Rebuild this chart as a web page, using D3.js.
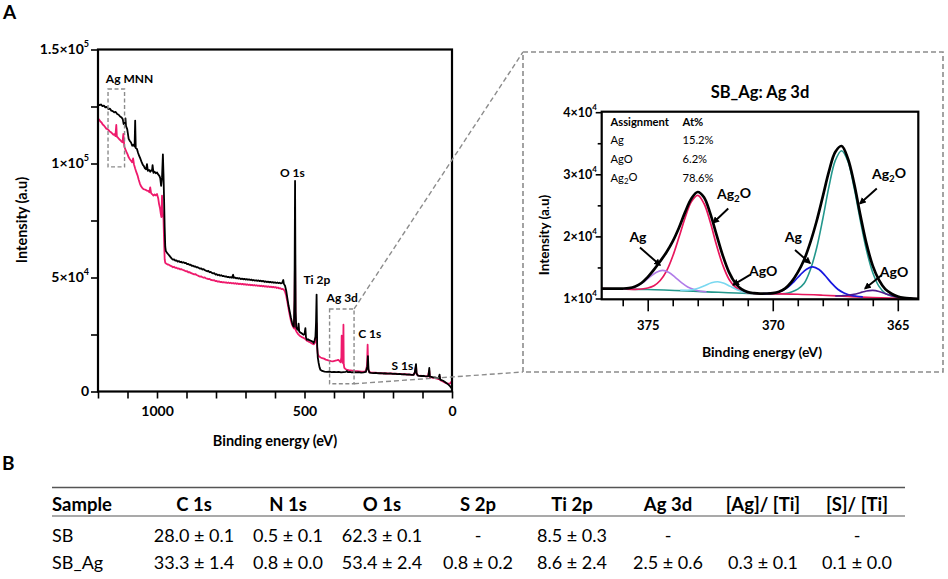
<!DOCTYPE html>
<html><head><meta charset="utf-8">
<script src="https://cdn.jsdelivr.net/npm/d3@7"></script>
<style>
body{margin:0;background:#fff}
svg{display:block}
text{font-family:Lato,"Open Sans",sans-serif;fill:#000}
</style>
</head><body>
<svg id="c" width="948" height="579"></svg>
<script>
// ---------------- DATA ----------------
// Survey spectra [binding energy (eV), intensity (counts)]
const surveySB = [[1200,126100],[1195,125600],[1190,125900],[1185,125200],[1180,125400],[1175,124600],[1170,124800],[1165,123900],[1160,124100],[1155,123200],[1150,123000],[1145,122400],[1140,122600],[1135,121700],[1130,121400],[1125,120600],[1120,120200],[1116,119400],[1113,117300],[1110,118200],[1107,119800],[1105,116400],[1101,115100],[1096,110800],[1092,109900],[1088,109200],[1084,107800],[1080,108200],[1076,107400],[1074,118800],[1072,106800],[1068,106400],[1064,104600],[1060,103200],[1056,102000],[1052,100600],[1048,99400],[1045,99000],[1041,97900],[1037,97500],[1034,99700],[1031,96800],[1027,97200],[1023,96400],[1020,97000],[1017,96800],[1015,99300],[1012,95900],[1008,96400],[1004,95700],[1000,96100],[996,95200],[992,94600],[989,93600],[986,90200],[983,93800],[980,104000],[978,95500],[976,84300],[974,72000],[972,63500],[970,61600],[966,60800],[962,60200],[958,59600],[954,58900],[950,58300],[946,57800],[942,57900],[938,57400],[934,57500],[930,57000],[926,57200],[922,56800],[918,56900],[914,56500],[910,56700],[906,56300],[902,56400],[898,55900],[894,56000],[890,55500],[886,55600],[882,55100],[878,55200],[874,54800],[870,54900],[866,54400],[862,54500],[858,54200],[854,53900],[850,54000],[846,53500],[842,53700],[838,53200],[834,53000],[830,52700],[826,52900],[822,52300],[818,52500],[814,52000],[810,51800],[806,51900],[802,51300],[798,51500],[794,51000],[790,51200],[786,50800],[782,51000],[778,50600],[774,50700],[770,50400],[766,50500],[762,50200],[758,50300],[754,50000],[750,50200],[746,49900],[742,51200],[740,49800],[736,50000],[732,49600],[728,49800],[724,49500],[720,49700],[716,49300],[712,49500],[708,49200],[704,49400],[700,49100],[696,49300],[692,49000],[688,49200],[684,48900],[680,49100],[676,48700],[672,48900],[668,48600],[664,48800],[660,48500],[656,48700],[652,48400],[648,48600],[644,48300],[640,48500],[636,48100],[632,48300],[628,48000],[624,48200],[620,47900],[616,48100],[612,47800],[608,48000],[604,47700],[600,47900],[596,47600],[592,47800],[588,47500],[584,47700],[580,47400],[576,47600],[572,48900],[570,47200],[566,46400],[562,44200],[558,40800],[554,37600],[550,35000],[546,32400],[542,30200],[539,28900],[536,28400],[534,40000],[532,92400],[530,35000],[528,28200],[525,27400],[522,27000],[520,29800],[518,26400],[514,25800],[510,25600],[506,25100],[503,24900],[500,25200],[497,27800],[495,23800],[492,22700],[488,22900],[484,22500],[480,22300],[476,22100],[472,21800],[469,21300],[466,22400],[463,23900],[461,30000],[459,42500],[457,20000],[455,15000],[452,12500],[449,10600],[446,9500],[440,9000],[432,8700],[424,8600],[416,8700],[408,8500],[400,8600],[392,8500],[384,8600],[376,8400],[368,8500],[360,8600],[356,9000],[353,8500],[346,8600],[340,8400],[332,8500],[324,8400],[316,8500],[308,8300],[300,8400],[292,8600],[287,11000],[285,15500],[283,9500],[280,8300],[274,8200],[266,8100],[258,8200],[250,8000],[242,8100],[234,7900],[226,8000],[218,7800],[210,7900],[202,7700],[194,7800],[186,7600],[178,7700],[170,7500],[162,7600],[154,7400],[146,7500],[138,7300],[130,7300],[126,8500],[122,12000],[120,8000],[116,7000],[110,6900],[104,6800],[98,6900],[92,6700],[86,6600],[80,6700],[77,10300],[75,6500],[70,6400],[64,6200],[58,6200],[52,6000],[46,5700],[42,7400],[40,5300],[36,5000],[30,4700],[24,4200],[18,3600],[12,3000],[6,2200],[2,1500],[0,1200]];

const surveySBAg = [[1200,119800],[1196,119200],[1192,118400],[1188,118000],[1184,117100],[1180,116700],[1176,116000],[1172,115300],[1168,115100],[1164,114600],[1160,114000],[1156,113700],[1152,113200],[1148,112600],[1145,112900],[1141,112000],[1138,116900],[1136,111800],[1132,111300],[1128,110600],[1124,110200],[1120,109600],[1117,109300],[1114,113000],[1111,107600],[1108,106400],[1104,105200],[1100,104100],[1096,102700],[1092,101900],[1088,101200],[1084,100500],[1081,102200],[1078,99600],[1074,97800],[1070,96200],[1066,94800],[1062,92900],[1058,91200],[1054,90000],[1050,89300],[1046,88800],[1042,88600],[1038,88400],[1034,88100],[1030,88000],[1026,87400],[1023,89500],[1020,87000],[1016,86500],[1012,85900],[1008,86400],[1004,86000],[1000,86600],[996,84800],[993,82200],[990,80500],[987,77800],[985,76500],[983,85900],[981,80000],[978,75700],[976,66000],[974,58000],[972,56400],[968,56000],[964,55700],[960,55600],[955,55200],[950,54900],[946,54500],[942,54700],[938,54200],[934,54300],[930,53900],[926,54000],[922,53600],[918,53700],[914,53400],[910,53200],[906,53000],[902,52700],[898,52800],[894,52300],[890,52400],[886,52000],[882,51800],[878,51600],[874,51400],[870,51500],[866,51100],[862,50900],[858,50600],[854,50400],[850,50500],[846,50100],[842,49900],[838,50000],[834,49600],[830,49500],[826,49300],[822,49400],[818,49000],[814,48900],[810,48700],[806,48800],[802,48400],[798,48500],[794,48200],[790,48300],[786,48000],[782,48100],[778,47900],[774,48000],[770,47800],[766,47900],[762,47600],[758,47800],[754,47500],[750,47700],[746,47400],[742,47600],[738,47300],[734,47500],[730,47200],[726,47400],[722,47100],[718,47300],[714,47000],[710,47200],[706,46900],[702,47100],[698,46800],[694,47000],[690,46700],[686,46900],[682,46600],[678,46800],[674,46500],[670,46700],[666,46400],[662,46600],[658,46300],[654,46500],[650,46200],[646,46400],[642,46100],[638,46300],[634,46000],[630,46200],[626,45900],[622,46100],[618,45800],[614,46000],[610,45700],[606,45900],[602,45600],[598,45800],[594,45400],[590,45600],[586,45200],[582,45300],[578,44900],[574,45000],[570,44600],[566,43800],[562,42000],[558,39200],[554,36200],[550,33500],[546,31000],[542,29200],[538,28200],[535,27600],[532,60000],[530,27000],[527,26200],[523,25400],[519,24800],[515,24300],[511,24000],[507,23700],[503,23500],[499,23200],[496,22900],[492,22300],[488,22000],[484,21700],[480,21500],[476,21200],[472,20900],[468,20700],[464,21500],[461,25000],[459,30000],[457,19000],[455,16500],[452,15600],[449,15200],[445,14900],[440,14600],[434,14400],[428,14000],[422,13800],[416,13500],[410,13300],[404,13200],[398,13400],[392,13600],[386,13900],[382,13500],[378,12800],[375,15000],[374,24500],[373,14000],[371,12600],[369,16000],[368,29300],[367,12000],[365,10400],[362,10000],[358,9600],[354,9500],[350,9400],[344,9300],[338,9200],[330,9000],[322,8900],[314,8800],[306,8700],[298,8700],[292,8900],[288,11500],[286,20500],[284,10000],[281,8600],[275,8400],[268,8300],[260,8300],[252,8200],[244,8000],[236,8100],[228,7900],[220,8000],[212,7800],[204,7900],[196,7700],[188,7800],[180,7600],[172,7700],[164,7500],[156,7600],[148,7400],[140,7400],[132,7300],[126,8200],[122,11500],[120,7600],[114,7000],[108,6900],[100,6800],[94,6700],[88,6600],[82,6600],[77,9200],[75,6300],[70,6200],[64,6000],[58,5900],[52,5700],[46,5400],[42,6600],[40,5000],[34,4600],[28,4200],[22,3800],[16,3500],[10,3400],[6,3600],[3,4200],[1,3700],[0,3500]];

const surveyXTicks = [1200,1100,1000,900,800,700,600,500,400,300,200,100,0];
const surveyXLabels = [1000,500,0];
const surveyYTicks = [0,25000,50000,75000,100000,125000,150000];
const surveyYLabels = [[0,"0",""],[50000,"5×10","4"],[100000,"1×10","5"],[150000,"1.5×10","5"]];

// peak labels [text, BE, intensity]
const surveyPeakLabels = [["Ag MNN",1093,135500],["O 1s",541,94000],["Ti 2p",458,47000],["Ag 3d",372,39300],["C 1s",279,23600],["S 1s",168,9300]];
// dashed regions [BE1, BE2, I1, I2]
const agMNNBox = [1166,1110,132700,98500];
const ag3dBox = [415,332,36200,3400];

// Ag 3d high-resolution fit [BE, intensity]
const fitEnvelope = [[376.84,11600],[376.5,11580],[376.0,11600],[375.75,11680],[375.5,11950],[375.25,12500],[375.0,13450],[374.75,14650],[374.5,16000],[374.25,17450],[374.0,19200],[373.75,21400],[373.5,23950],[373.25,26100],[373.0,27150],[372.75,26300],[372.5,23700],[372.25,20300],[372.0,16950],[371.75,14250],[371.5,12500],[371.25,11500],[371.0,11020],[370.75,10860],[370.5,10790],[370.25,10800],[370.0,10870],[369.75,11090],[369.5,11630],[369.25,12670],[369.0,14200],[368.75,16200],[368.5,19000],[368.25,22400],[368.0,26400],[367.75,30500],[367.5,33600],[367.25,34550],[367.0,32600],[366.75,28600],[366.5,23500],[366.25,18800],[366.0,15250],[365.75,12950],[365.5,11500],[365.25,10770],[365.0,10310],[364.75,10100],[364.5,10010],[364.18,9950]];
const fitAg2O = [[376.84,11550],[375.0,11450],[373.0,11150],[371.0,10800],[370.0,10750],[369.5,10800],[369.25,11050],[369.0,11500],[368.75,12400],[368.5,14600],[368.25,18050],[368.0,22800],[367.75,28050],[367.5,32200],[367.25,33800],[367.0,32150],[366.75,27900],[366.5,22600],[366.25,17750],[366.0,14150],[365.75,11950],[365.5,10830],[365.25,10400],[365.0,10150],[364.5,10000],[364.18,9950]];
const fitAg2O32 = [[376.84,11600],[376.0,11500],[375.5,11470],[375.25,11530],[375.0,11690],[374.75,12050],[374.5,12890],[374.25,14400],[374.0,16800],[373.75,19850],[373.5,23050],[373.25,25600],[373.0,26600],[372.75,25300],[372.5,22300],[372.25,18600],[372.0,15400],[371.75,13100],[371.5,11850],[371.25,11200],[371.0,10900],[370.75,10800],[370.0,10750],[369.0,10680],[368.0,10520],[367.0,10320],[366.0,10150],[365.0,10020],[364.18,9930]];
const fitAg32 = [[376.15,11520],[375.9,11580],[375.65,11720],[375.4,12060],[375.15,12700],[374.9,13510],[374.65,14240],[374.4,14530],[374.15,14190],[373.9,13410],[373.65,12550],[373.4,11860],[373.15,11440],[372.9,11180],[372.65,11070]];
const fitAgO32 = [[373.7,11320],[373.45,11330],[373.2,11400],[372.95,11680],[372.7,12100],[372.45,12530],[372.2,12700],[371.95,12460],[371.7,11950],[371.45,11460],[371.2,11100],[370.95,10880],[370.7,10820]];
const fitAg52 = [[370.4,10770],[370.15,10810],[369.9,10930],[369.65,11220],[369.4,11790],[369.15,12730],[368.9,13810],[368.65,14720],[368.4,15100],[368.15,14670],[367.9,13660],[367.65,12480],[367.4,11490],[367.15,10900],[366.9,10530],[366.65,10360],[366.4,10270]];
const fitAgO52 = [[367.5,10410],[367.25,10450],[367.0,10510],[366.75,10670],[366.5,10930],[366.25,11200],[366.0,11300],[365.75,11130],[365.5,10780],[365.25,10470],[365.0,10210],[364.75,10100],[364.5,10010]];

const insetXTicks = [376,375,374,373,372,371,370,369,368,367,366,365];
const insetXLabels = [375,370,365];
const insetYTicks = [10000,15000,20000,25000,30000,35000,40000];
const insetYLabels = [[10000,"1×10","4"],[20000,"2×10","4"],[30000,"3×10","4"],[40000,"4×10","4"]];

const assignHeader = ["Assignment","At%"];
const assignRows = [["Ag","15.2%"],["AgO","6.2%"],["Ag2O","78.6%"]];

// annotations [text, textBE, textI, arrowFromBE, arrowFromI, arrowToBE, arrowToI]
const insetArrows = [
  ["Ag",375.39,19100,375.31,18200,374.51,15400],
  ["Ag2O",371.55,26000,371.78,24500,372.38,22200],
  ["AgO",370.38,13600,370.91,13800,371.58,12200],
  ["Ag",369.18,19100,369.11,17800,368.51,15700],
  ["Ag2O",365.35,29200,365.84,27700,366.51,25300],
  ["AgO",365.15,13500,365.64,13800,366.31,11600]
];

// table
const tableHeader = ["Sample","C 1s","N 1s","O 1s","S 2p","Ti 2p","Ag 3d","[Ag]/ [Ti]","[S]/ [Ti]"];
const tableRows = [
  ["SB","28.0 ± 0.1","0.5 ± 0.1","62.3 ± 0.1","-","8.5 ± 0.3","-","","-"],
  ["SB_Ag","33.3 ± 1.4","0.8 ± 0.0","53.4 ± 2.4","0.8 ± 0.2","8.6 ± 2.4","2.5 ± 0.6","0.3 ± 0.1","0.1 ± 0.0"]
];

// ---------------- DRAW ----------------
const svg = d3.select("#c");
const defs = svg.append("defs");
defs.append("marker").attr("id","arr").attr("viewBox","0 0 10 10").attr("refX",8).attr("refY",5)
  .attr("markerWidth",7).attr("markerHeight",7).attr("markerUnits","userSpaceOnUse").attr("orient","auto")
  .append("path").attr("d","M0,0 L10,5 L0,10 z").attr("fill","#000");

function chemText(sel, txt){
  if (txt === "Ag2O"){
    sel.append("tspan").text("Ag");
    sel.append("tspan").text("2").attr("font-size","0.7em").attr("dy","0.25em");
    sel.append("tspan").text("O").attr("dy","-0.25em");
  } else sel.text(txt);
}

svg.append("text").attr("x",3).attr("y",19).attr("font-size",19).attr("font-weight",700).text("A");
svg.append("text").attr("x",2).attr("y",470).attr("font-size",19).attr("font-weight",700).text("B");

// ----- main survey -----
const mx = d3.scaleLinear().domain([1200,0]).range([98,452]);
const my = d3.scaleLinear().domain([0,150000]).range([391.5,49.5]);
defs.append("clipPath").attr("id","mclip").append("rect").attr("x",98).attr("y",49.5).attr("width",354).attr("height",342);

const mLine = d3.line().x(d=>mx(d[0])).y(d=>my(d[1]));
const mg = svg.append("g").attr("clip-path","url(#mclip)");
mg.append("path").datum(surveySBAg).attr("d",mLine).attr("fill","none").attr("stroke","#ee1a6c").attr("stroke-width",1.8).attr("stroke-linejoin","round");
mg.append("path").datum(surveySB).attr("d",mLine).attr("fill","none").attr("stroke","#000").attr("stroke-width",1.8).attr("stroke-linejoin","round");

const xAx = svg.append("g").attr("transform","translate(0,391.5)")
  .call(d3.axisBottom(mx).tickValues(surveyXTicks).tickSize(7).tickPadding(8)
  .tickFormat(d=>surveyXLabels.includes(d)?String(d):""));
xAx.select(".domain").remove();
xAx.selectAll("line").attr("stroke","#000").attr("stroke-width",1.6);
xAx.selectAll("text").attr("font-size",14).attr("font-weight",700).attr("font-family","Lato");

const yAx = svg.append("g").attr("transform","translate(98,0)")
  .call(d3.axisLeft(my).tickValues(surveyYTicks).tickSize(7).tickFormat(""));
yAx.select(".domain").remove();
yAx.selectAll("line").attr("stroke","#000").attr("stroke-width",1.6);
surveyYLabels.forEach(([v,m,e])=>{
  const t = svg.append("text").attr("x",89).attr("y",my(v)).attr("dy","0.35em").attr("text-anchor","end")
    .attr("font-size",14).attr("font-weight",700);
  t.append("tspan").text(m);
  if(e) t.append("tspan").text(e).attr("font-size",9).attr("dy","-0.8em");
});
svg.append("rect").attr("x",98).attr("y",49.5).attr("width",354).attr("height",342)
  .attr("fill","none").attr("stroke","#000").attr("stroke-width",2.2);

svg.append("text").attr("transform","translate(27,220) rotate(-90)").attr("text-anchor","middle")
  .attr("font-size",14.5).attr("font-weight",700).text("Intensity (a.u)");
svg.append("text").attr("x",275).attr("y",446).attr("text-anchor","middle")
  .attr("font-size",14.5).attr("font-weight",700).text("Binding energy (eV)");

surveyPeakLabels.forEach(([t,be,v])=>{
  svg.append("text").attr("x",mx(be)).attr("y",my(v)).attr("text-anchor","middle")
    .attr("font-size",12).attr("font-weight",700).text(t);
});

function dashedBox(b){
  svg.append("rect").attr("x",mx(b[0])).attr("y",my(b[2])).attr("width",mx(b[1])-mx(b[0])).attr("height",my(b[3])-my(b[2]))
    .attr("fill","none").attr("stroke","#8c8c8c").attr("stroke-width",1.4).attr("stroke-dasharray","4,2.5");
}
dashedBox(agMNNBox);
dashedBox(ag3dBox);

// inset frame + connectors
const ib = {x:523,y:52,w:420,h:320};
svg.append("line").attr("x1",mx(ag3dBox[1])).attr("y1",my(ag3dBox[2])).attr("x2",ib.x).attr("y2",ib.y)
  .attr("stroke","#8c8c8c").attr("stroke-width",1.4).attr("stroke-dasharray","5,3");
svg.append("line").attr("x1",mx(ag3dBox[1])).attr("y1",my(ag3dBox[3])).attr("x2",ib.x).attr("y2",ib.y+ib.h)
  .attr("stroke","#8c8c8c").attr("stroke-width",1.4).attr("stroke-dasharray","5,3");
svg.append("rect").attr("x",ib.x).attr("y",ib.y).attr("width",ib.w).attr("height",ib.h)
  .attr("fill","#fff").attr("stroke","#8c8c8c").attr("stroke-width",1.6).attr("stroke-dasharray","5,3");

// ----- inset -----
const ix = d3.scaleLinear().domain([376.84,364.18]).range([601.7,918.3]);
const iy = d3.scaleLinear().domain([9870,40080]).range([299.3,111.7]);
defs.append("clipPath").attr("id","iclip").append("rect").attr("x",601.7).attr("y",111.7).attr("width",316.6).attr("height",187.6);
const iLine = d3.line().x(d=>ix(d[0])).y(d=>iy(d[1])).curve(d3.curveCatmullRom.alpha(0.5));
const ig = svg.append("g").attr("clip-path","url(#iclip)");
const comps = [
  [fitAg2O,"#23978c",1.6],[fitAg2O32,"#e8175d",1.7],[fitAg32,"#b07ce8",1.6],[fitAgO32,"#79d8f0",1.6],
  [fitAg52,"#1717e0",1.7],[fitAgO52,"#4f1a8c",1.6],[fitEnvelope,"#000",2.7]
];
comps.forEach(([d,c,w])=>{
  ig.append("path").datum(d).attr("d",iLine).attr("fill","none").attr("stroke",c).attr("stroke-width",w);
});

const ixAx = svg.append("g").attr("transform","translate(0,299.3)")
  .call(d3.axisBottom(ix).tickValues(insetXTicks).tickSize(7).tickPadding(14).tickFormat(d=>insetXLabels.includes(d)?String(d):""));
ixAx.select(".domain").remove();
ixAx.selectAll("line").attr("stroke","#000").attr("stroke-width",1.6);
ixAx.selectAll(".tick").filter(d=>insetXLabels.includes(d)).select("line").attr("y2",12);
ixAx.selectAll("text").attr("font-size",13).attr("font-weight",700).attr("font-family","Lato");

const iyAx = svg.append("g").attr("transform","translate(601.7,0)")
  .call(d3.axisLeft(iy).tickValues(insetYTicks).tickSize(6).tickFormat(""));
iyAx.select(".domain").remove();
iyAx.selectAll("line").attr("stroke","#000").attr("stroke-width",1.6);
iyAx.selectAll(".tick").filter(d=>d%10000!==0).select("line").attr("x2",-4);
insetYLabels.forEach(([v,m,e])=>{
  const t = svg.append("text").attr("x",597).attr("y",iy(v)).attr("dy","0.35em").attr("text-anchor","end")
    .attr("font-size",12.5).attr("font-weight",700);
  t.append("tspan").text(m);
  t.append("tspan").text(e).attr("font-size",8).attr("dy","-0.8em");
});
svg.append("rect").attr("x",601.7).attr("y",111.7).attr("width",316.6).attr("height",187.6)
  .attr("fill","none").attr("stroke","#000").attr("stroke-width",2.2);

svg.append("text").attr("x",760).attr("y",97.5).attr("text-anchor","middle").attr("font-size",16.5).attr("font-weight",700).text("SB_Ag: Ag 3d");
svg.append("text").attr("transform","translate(549,235) rotate(-90)").attr("text-anchor","middle")
  .attr("font-size",13.5).attr("font-weight",700).text("Intensity (a.u)");
svg.append("text").attr("x",762).attr("y",356.5).attr("text-anchor","middle").attr("font-size",14).attr("font-weight",700).text("Binding energy (eV)");

// assignment table
svg.append("text").attr("x",610.5).attr("y",125.5).attr("font-size",11.2).attr("font-weight",700).text(assignHeader[0]);
svg.append("text").attr("x",682.5).attr("y",125.5).attr("font-size",11.2).attr("font-weight",700).text(assignHeader[1]);
assignRows.forEach((r,i)=>{
  const yy = 144.3 + i*19;
  chemText(svg.append("text").attr("x",610.5).attr("y",yy).attr("font-size",11.2).attr("fill","#222"), r[0]);
  svg.append("text").attr("x",682.5).attr("y",yy).attr("font-size",11.2).attr("fill","#222").text(r[1]);
});

insetArrows.forEach(([t,tb,ti,fb,fi,tob,toi])=>{
  chemText(svg.append("text").attr("x",ix(tb)).attr("y",iy(ti)).attr("text-anchor","middle")
    .attr("font-size",14).attr("font-weight",700), t);
  svg.append("line").attr("x1",ix(fb)).attr("y1",iy(fi)).attr("x2",ix(tob)).attr("y2",iy(toi))
    .attr("stroke","#000").attr("stroke-width",1.9).attr("marker-end","url(#arr)");
});

// ----- table B -----
const colX = [52,194,288,382,478,572,668,763,857];
svg.append("line").attr("x1",52).attr("x2",905).attr("y1",487.5).attr("y2",487.5).attr("stroke","#555").attr("stroke-width",1.5);
svg.append("line").attr("x1",52).attr("x2",905).attr("y1",516).attr("y2",516).attr("stroke","#555").attr("stroke-width",1.2);
tableHeader.forEach((h,i)=>{
  svg.append("text").attr("x",colX[i]).attr("y",510.5).attr("text-anchor",i===0?"start":"middle")
    .attr("font-size",18.5).attr("font-weight",700).text(h);
});
tableRows.forEach((r,j)=>{
  const yy = j===0?541.5:568.5;
  r.forEach((c,i)=>{
    svg.append("text").attr("x",colX[i]).attr("y",yy).attr("text-anchor",i===0?"start":"middle")
      .attr("font-size",18).text(c);
  });
});
</script>
</body></html>
